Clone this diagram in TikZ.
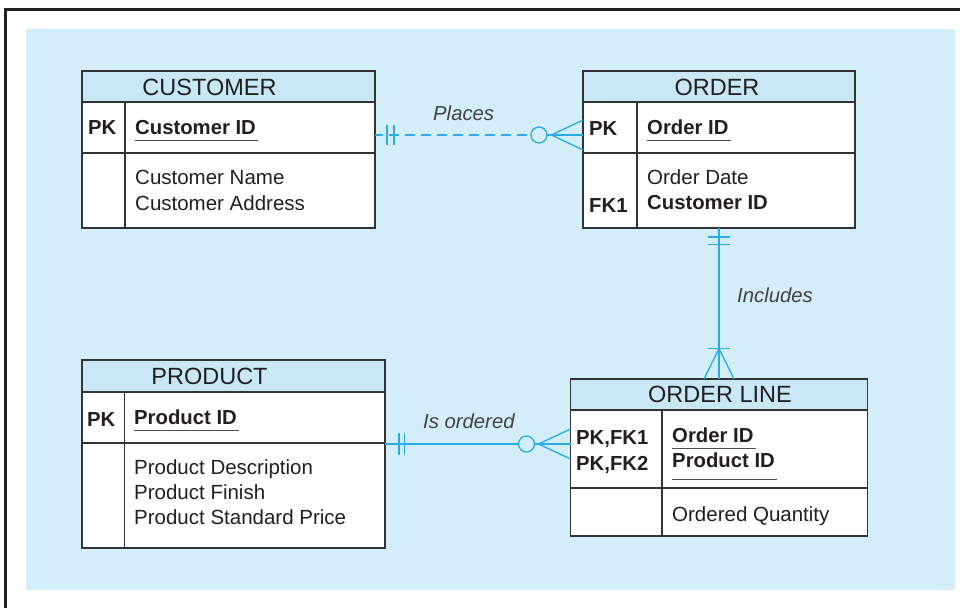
\documentclass[tikz,border=0pt]{standalone}
\usepackage{fontspec}
\setmainfont{Liberation Sans}
\usetikzlibrary{calc}
\definecolor{bgblue}{HTML}{D4EEF9}
\definecolor{hdblue}{HTML}{C8E8F6}
\definecolor{relcol}{HTML}{29ACE3}
\definecolor{ink}{HTML}{231F20}
\definecolor{boxline}{HTML}{333333}
\definecolor{framecol}{HTML}{222222}
\begin{document}
\begin{tikzpicture}[x=1pt,y=-1pt,
  cell/.style={draw=boxline, line width=1.3pt, fill=white, inner sep=0, outer sep=0, anchor=north west},
  hcell/.style={cell, fill=hdblue},
  divl/.style={draw=boxline, line width=1.3pt},
  hd/.style={inner sep=0, anchor=base, text=ink, font=\fontsize{23.5}{27}\selectfont},
  tx/.style={inner sep=0, anchor=base west, text=ink, font=\fontsize{20.5}{24}\selectfont},
  bx/.style={tx, font=\fontsize{20.3}{24}\selectfont\bfseries},
  lab/.style={tx, text=ink!85, font=\fontsize{20.3}{24}\selectfont\itshape},
  uline/.style={draw=ink!80, line width=1pt},
  rel/.style={draw=relcol, line width=1.5pt},
  relthin/.style={draw=relcol, line width=1.3pt}]
\useasboundingbox (0,0) rectangle (960,608);
\fill[white] (0,0) rectangle (960,608);
\fill[bgblue] (26,29) rectangle (955,590);
\draw[framecol, line width=3pt] (5.5,608) -- (5.5,9.5) -- (960,9.5);

% ---------------- CUSTOMER
\node[hcell, minimum width=293pt, minimum height=31pt] (custH) at (82,71) {};
\node[cell, minimum width=293pt, minimum height=51pt] (custR1) at (82,102) {};
\node[cell, minimum width=293pt, minimum height=75pt] (custR2) at (82,153) {};
\draw[divl] (125,102) -- (125,228);
\node[hd] (custT) at (209.5,95) {CUSTOMER};
\node[bx] (custPK) at (88,134.5) {PK};
\node[bx] (custId) at (135,134) {Customer ID};
\draw[uline] ([yshift=-6pt]custId.base west) -- ([yshift=-6pt,xshift=2pt]custId.base east);
\node[tx] (custN) at (135,184.5) {Customer Name};
\node[tx] (custA) at (135,210) {Customer Address};

% ---------------- ORDER
\node[hcell, minimum width=272pt, minimum height=31pt] (ordH) at (583,71) {};
\node[cell, minimum width=272pt, minimum height=51pt] (ordR1) at (583,102) {};
\node[cell, minimum width=272pt, minimum height=75pt] (ordR2) at (583,153) {};
\draw[divl] (637,102) -- (637,228);
\node[hd] (ordT) at (717,95) {ORDER};
\node[bx] (ordPK) at (589,135) {PK};
\node[bx] (ordId) at (647,134) {Order ID};
\draw[uline] ([yshift=-6pt]ordId.base west) -- ([yshift=-6pt,xshift=2pt]ordId.base east);
\node[tx] (ordD) at (647,184) {Order Date};
\node[bx] (ordFK) at (589,212) {FK1};
\node[bx] (ordC) at (647,209) {Customer ID};

% ---------------- PRODUCT
\node[hcell, minimum width=303pt, minimum height=32pt] (prodH) at (82,360) {};
\node[cell, minimum width=303pt, minimum height=51pt] (prodR1) at (82,392) {};
\node[cell, minimum width=303pt, minimum height=105pt] (prodR2) at (82,443) {};
\draw[divl] (124.5,392) -- (124.5,548);
\node[hd] (prodT) at (209.5,384) {PRODUCT};
\node[bx] (prodPK) at (87,426) {PK};
\node[bx] (prodId) at (134,424.5) {Product ID};
\draw[uline] ([yshift=-6pt]prodId.base west) -- ([yshift=-6pt,xshift=2pt]prodId.base east);
\node[tx] (prodD) at (134,474) {Product Description};
\node[tx] (prodF) at (134,499) {Product Finish};
\node[tx] (prodP) at (134,524.5) {Product Standard Price};

% ---------------- ORDER LINE
\node[hcell, minimum width=297pt, minimum height=31pt] (olH) at (570.5,379) {};
\node[cell, minimum width=297pt, minimum height=78pt] (olR1) at (570.5,410) {};
\node[cell, minimum width=297pt, minimum height=48pt] (olR2) at (570.5,488) {};
\draw[divl] (662,410) -- (662,536);
\node[hd] (olT) at (720,402) {ORDER LINE};
\node[bx] (olK1) at (576,444.5) {PK,FK1};
\node[bx] (olK2) at (576,470) {PK,FK2};
\node[bx] (olO) at (672,442.5) {Order ID};
\draw[uline] ([yshift=-6pt]olO.base west) -- ([yshift=-6pt,xshift=2pt]olO.base east);
\node[bx] (olP) at (672,467.5) {Product ID};
\draw[uline] ([yshift=-11.5pt]olP.base west) -- ([yshift=-11.5pt,xshift=2pt]olP.base east);
\node[tx] (olQ) at (672,521.5) {Ordered Quantity};

% ---------------- Places (CUSTOMER -- ORDER)
\coordinate (pA) at ([yshift=-7.5pt]custR1.east);
\coordinate (pB) at (ordR1.west |- pA);
\coordinate (pC) at ($(pB)+(-44,0)$);
\draw[rel, dash pattern=on 10pt off 6pt, dash phase=2pt] (pA) -- ($(pC)+(-8,0)$);
\draw[rel] ($(pC)+(8,0)$) -- (pB);
\draw[relthin] (pC) circle[radius=8pt];
\draw[relthin] ($(pA)+(12,-10)$) -- ($(pA)+(12,10)$);
\draw[relthin] ($(pA)+(19,-10)$) -- ($(pA)+(19,10)$);
\draw[relthin] (pB) ++(0,-15) -- ($(pB)+(-31.5,0)$) -- ++(31.5,15);
\node[lab] (pLab) at (433,120.5) {Places};

% ---------------- Includes (ORDER -- ORDER LINE)
\coordinate (iA) at (ordR2.south);
\coordinate (iB) at (olH.north);
\draw[rel] (iA) -- (iB);
\draw[relthin] ($(iA)+(-11,9)$) -- ($(iA)+(11,9)$);
\draw[relthin] ($(iA)+(-11,16.5)$) -- ($(iA)+(11,16.5)$);
\draw[relthin] ($(iB)+(-11,-30.5)$) -- ($(iB)+(11,-30.5)$);
\draw[relthin] ($(iB)+(-15,0)$) -- ($(iB)+(0,-30.5)$) -- ($(iB)+(15,0)$);
\node[lab] (iLab) at (737,302) {Includes};

% ---------------- Is ordered (PRODUCT -- ORDER LINE)
\coordinate (oA) at ([yshift=-1pt]prodR1.south east);
\coordinate (oB) at (olR1.west |- oA);
\coordinate (oC) at ($(oB)+(-44,0)$);
\draw[rel] (oA) -- ($(oC)+(-8,0)$);
\draw[rel] ($(oC)+(8,0)$) -- (oB);
\draw[relthin] (oC) circle[radius=8pt];
\draw[relthin] ($(oA)+(14,-11)$) -- ($(oA)+(14,11)$);
\draw[relthin] ($(oA)+(19.5,-11)$) -- ($(oA)+(19.5,11)$);
\draw[relthin] (oB) ++(0,-15) -- ($(oB)+(-32,0)$) -- ++(32,15);
\node[lab] (oLab) at (423,428.5) {Is ordered};
\end{tikzpicture}
\end{document}
